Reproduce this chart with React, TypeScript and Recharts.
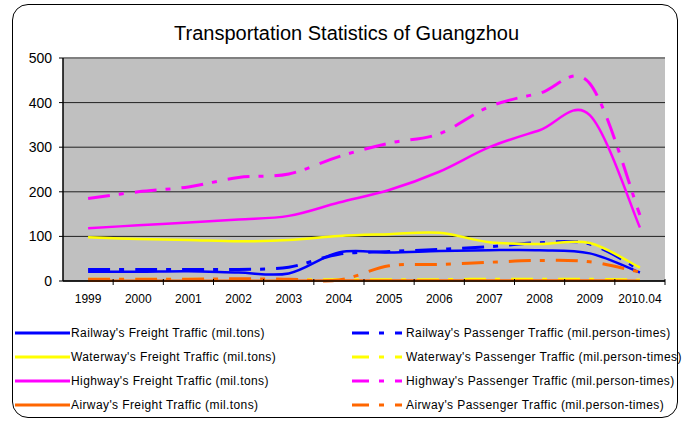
import React from 'react';
import { LineChart, Line, XAxis, YAxis, CartesianGrid, ReferenceLine } from 'recharts';

const years = ['1999', '2000', '2001', '2002', '2003', '2004', '2005', '2006', '2007', '2008', '2009', '2010.04'];

// freight (mil.tons)
const railwayFreight = [21, 21, 22, 19, 17, 64, 64, 67, 69, 69, 62, 19];
const waterwayFreight = [98, 94, 92, 89, 92, 101, 105, 108, 87, 83, 85, 30];
const highwayFreight = [118, 125, 131, 138, 146, 176, 204, 245, 300, 338, 372, 120];
const airwayFreight = [0.6, 0.7, 0.7, 0.8, 0.8, 0.9, 1.0, 1.1, 1.2, 1.2, 1.3, 0.4];

// passengers (mil.person-times)
const railwayPassenger = [26, 26, 26, 26, 31, 60, 66, 71, 77, 86, 83, 25];
const waterwayPassenger = [4, 4, 4, 3, 3, 3, 3, 3, 4, 4, 4, 2];
const highwayPassenger = [185, 200, 211, 232, 240, 279, 309, 330, 391, 421, 443, 148];
const airwayPassenger = [4, 4, 4, 5, 4, 2, 34, 37, 42, 46, 43, 20];

const yTicks = [0, 100, 200, 300, 400, 500];

const freightSeries = [
  { key: 'railwayFreight', name: "Railway's Freight Traffic (mil.tons)", color: '#0000FF', values: railwayFreight },
  { key: 'waterwayFreight', name: "Waterway's Freight Traffic (mil.tons)", color: '#FFFF00', values: waterwayFreight },
  { key: 'highwayFreight', name: "Highway's Freight Traffic (mil.tons)", color: '#FF00FF', values: highwayFreight },
  { key: 'airwayFreight', name: "Airway's Freight Traffic (mil.tons)", color: '#FF6600', values: airwayFreight },
];

const passengerSeries = [
  { key: 'railwayPassenger', name: "Railway's Passenger Traffic (mil.person-times)", color: '#0000FF', values: railwayPassenger },
  { key: 'waterwayPassenger', name: "Waterway's Passenger Traffic (mil.person-times)", color: '#FFFF00', values: waterwayPassenger },
  { key: 'highwayPassenger', name: "Highway's Passenger Traffic (mil.person-times)", color: '#FF00FF', values: highwayPassenger },
  { key: 'airwayPassenger', name: "Airway's Passenger Traffic (mil.person-times)", color: '#FF6600', values: airwayPassenger },
];

// draw order like the original: freight then passenger for each mode
const drawOrder = [0, 1, 2, 3].flatMap(i => [freightSeries[i], passengerSeries[i]]);

const data = years.map((year, i) => {
  const row: Record<string, any> = { year };
  drawOrder.forEach(s => { row[s.key] = s.values[i]; });
  return row;
});

// Excel-style smoothed line (Catmull-Rom through the points)
const smoothCurve = (context: any) => {
  let pts: number[][] = [];
  return {
    areaStart() {},
    areaEnd() {},
    lineStart() { pts = []; },
    point(x: number, y: number) { pts.push([+x, +y]); },
    lineEnd() {
      if (!pts.length) return;
      context.moveTo(pts[0][0], pts[0][1]);
      for (let i = 0; i < pts.length - 1; i++) {
        const p0 = pts[i - 1] || pts[i];
        const p1 = pts[i];
        const p2 = pts[i + 1];
        const p3 = pts[i + 2] || p2;
        context.bezierCurveTo(
          p1[0] + (p2[0] - p0[0]) / 6, p1[1] + (p2[1] - p0[1]) / 6,
          p2[0] - (p3[0] - p1[0]) / 6, p2[1] - (p3[1] - p1[1]) / 6,
          p2[0], p2[1]
        );
      }
    },
  };
};

const W = 687;
const H = 421;
const margin = { top: 58, right: 22, bottom: 100, left: 8 };
const yAxisW = 55;
const xAxisH = 40;
const plotW = W - margin.left - margin.right - yAxisW;
const band = plotW / years.length;

const PASSENGER_DASH = '22 9 5 11';

const XTick = (props: any) => {
  const { x, y, payload } = props;
  return (
    <g>
      <line x1={x + band / 2} x2={x + band / 2} y1={y - 2} y2={y + 4} stroke="#000" />
      <text x={x} y={y} dy={22} textAnchor="middle" fontSize={12} fill="#000">
        {payload.value}
      </text>
    </g>
  );
};

const LegendItem = ({ s, left, top, dashed, lineW }: any) => (
  <div style={{ position: 'absolute', left, top: top - 8, height: 16, display: 'flex', alignItems: 'center', whiteSpace: 'nowrap' }}>
    <svg width={lineW} height={16} style={{ display: 'block' }}>
      <line x1={0} x2={lineW} y1={8} y2={8} stroke={s.color} strokeWidth={3}
        strokeDasharray={dashed ? '17 10 5 11' : undefined} />
    </svg>
    <span style={{ fontSize: 12, marginLeft: dashed ? 4 : 1, color: '#000', letterSpacing: 0.4 }}>{s.name}</span>
  </div>
);

const rowY = [333, 357, 381, 405];

export default function App() {
  return (
    <div style={{ position: 'absolute', left: 0, top: 0, width: W, height: H, background: '#fff', fontFamily: '"Liberation Sans", Arial, sans-serif' }}>
      <div style={{ position: 'absolute', left: 12, top: 4, width: 666, height: 414, border: '1px solid #000', borderRadius: 16, boxSizing: 'border-box' }} />
      <div style={{ position: 'absolute', left: 0, top: 23, width: 693, textAlign: 'center', fontSize: 20, lineHeight: '20px', color: '#000' }}>
        Transportation Statistics of Guangzhou
      </div>
      <div style={{ position: 'absolute', left: 0, top: 0 }}>
        <LineChart width={W} height={H} data={data} margin={margin}>
          <CartesianGrid yAxisId="left" vertical={false} fill="#C0C0C0" stroke="#202020" strokeOpacity={1} />
          <XAxis
            dataKey="year"
            interval={0}
            padding={{ left: band / 2, right: band / 2 }}
            height={xAxisH}
            tickSize={0}
            tickMargin={0}
            tickLine={false}
            axisLine={{ stroke: '#000', strokeWidth: 1.5 }}
            tick={<XTick />}
          />
          <YAxis
            yAxisId="left"
            width={yAxisW}
            domain={[0, 500]}
            ticks={yTicks}
            tickSize={4}
            tickMargin={7}
            axisLine={{ stroke: '#000', strokeWidth: 1.5 }}
            tickLine={{ stroke: '#000' }}
            tick={{ fontSize: 14, fill: '#000' }}
          />
          <YAxis
            yAxisId="right"
            orientation="right"
            width={0}
            domain={[0, 500]}
            tick={false}
            tickLine={false}
            axisLine={{ stroke: '#808080', strokeWidth: 2 }}
          />
          <ReferenceLine yAxisId="left" y={500} stroke="#808080" strokeWidth={2} />
          {drawOrder.map(s => {
            const dashed = passengerSeries.includes(s);
            return (
              <Line
                key={s.key}
                yAxisId="left"
                type={smoothCurve as any}
                dataKey={s.key}
                name={s.name}
                stroke={s.color}
                strokeWidth={dashed ? 3 : 2.5}
                strokeDasharray={dashed ? PASSENGER_DASH : undefined}
                dot={false}
                activeDot={false}
                isAnimationActive={false}
              />
            );
          })}
        </LineChart>
      </div>
      {freightSeries.map((s, i) => (
        <LegendItem key={s.key} s={s} left={15} top={rowY[i]} dashed={false} lineW={55} />
      ))}
      {passengerSeries.map((s, i) => (
        <LegendItem key={s.key} s={s} left={352} top={rowY[i]} dashed={true} lineW={50} />
      ))}
    </div>
  );
}
